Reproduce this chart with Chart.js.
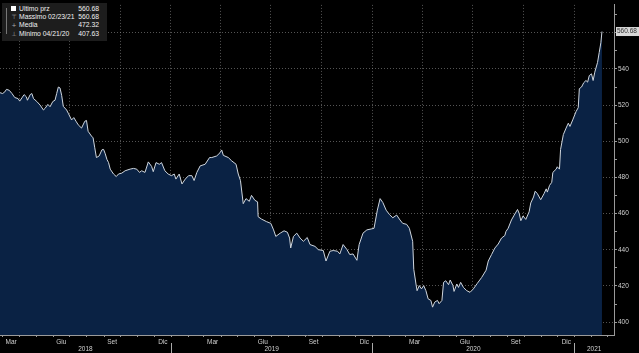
<!DOCTYPE html>
<html>
<head>
<meta charset="utf-8">
<script src="https://cdn.jsdelivr.net/npm/chart.js@4"></script>
<style>
  html, body { margin: 0; padding: 0; background: #000; }
  #wrap { position: relative; width: 639px; height: 353px; }
  #legend {
    position: absolute; left: 2px; top: 3px; width: 105px; height: 38px;
    background: #1d1d1d; color: #f0f0f0;
    font: 6.8px "Liberation Sans", Arial, sans-serif;
  }
  .row { position: absolute; left: 0; width: 100%; height: 8px; line-height: 8px; }
  .row .lab { position: absolute; left: 17px; }
  .row .val { position: absolute; right: 8px; }
  .row .ico { position: absolute; left: 9px; width: 6px; text-align: center; color: #aaa; font-family: "DejaVu Sans"; font-size: 6px; }
  .row .sq { position: absolute; left: 9px; top: 1.5px; width: 5px; height: 5px; background: #fff; }
  #tree { position: absolute; left: 4px; top: 5px; width: 3px; height: 26px; border-left: 1px solid #777; }
</style>
</head>
<body>
<div id="wrap">
  <canvas id="chart" width="639" height="353"></canvas>
  <div id="legend"></div>
</div>
<script>
// days since 1 Jan 2018, and closing values
const days = [55, 60, 64, 67, 72, 77, 82, 88, 91, 95, 99, 103, 105, 110, 113, 116, 122, 128, 134, 137,
  142, 146, 151, 155, 158, 161, 164, 167, 170, 176, 179, 185, 189, 193, 197, 203, 209, 212, 215, 221,
  224, 227, 230, 235, 240, 243, 246, 249, 252, 255, 261, 266, 270, 276, 282, 291, 297, 303, 308, 312,
  318, 324, 330, 333, 338, 344, 348, 354, 360, 366, 371, 374, 380, 385, 391, 397, 403, 407, 412, 418,
  427, 435, 439, 448, 454, 457, 460, 469, 475, 483, 487, 491, 496, 501, 507, 511, 517, 522, 523, 529,
  538, 546, 551, 555, 563, 570, 576, 580, 582, 587, 593, 599, 605, 612, 617, 626, 632, 641, 646, 653,
  659, 667, 671, 677, 684, 689, 695, 702, 706, 713, 720, 729, 733, 739, 744, 749, 755, 761, 767, 774,
  780, 785, 792, 797, 803, 805, 809, 811, 815, 819, 823, 827, 831, 836, 839, 843, 848, 851, 856, 859,
  863, 868, 871, 876, 878, 883, 886, 890, 895, 901, 907, 913, 920, 928, 936, 940, 946, 952, 958, 964,
  970, 972, 976, 982, 987, 993, 996, 999, 1003, 1008, 1014, 1017, 1022, 1025, 1029, 1035, 1041, 1045, 1047, 1051,
  1055, 1057, 1063, 1065, 1069, 1071, 1076, 1081, 1085, 1088, 1093, 1099, 1103, 1105, 1109, 1113, 1117, 1120, 1123, 1127,
  1130, 1133, 1138, 1141, 1144, 1146];
const values = [526.9, 526.4, 527.3, 528.7, 528.2, 526.4, 524.2, 523.6, 522.2, 524.0, 525.8, 524.6, 522.7, 525.8, 526.4, 523.6, 522.0, 520.0, 517.3, 518.2,
  520.4, 519.1, 522.0, 522.7, 526.4, 530.0, 529.5, 525.4, 519.3, 517.3, 515.5, 511.8, 513.1, 511.1, 509.1, 507.3, 511.1, 511.5, 505.5, 502.9,
  501.9, 496.4, 491.0, 491.9, 495.3, 495.5, 493.1, 490.0, 488.2, 484.6, 481.9, 480.5, 481.9, 482.4, 483.7, 484.6, 485.0, 484.6, 482.8, 483.7,
  482.8, 488.6, 486.1, 483.2, 488.2, 487.3, 488.2, 483.7, 481.9, 481.0, 481.9, 479.1, 481.9, 476.4, 479.1, 481.0, 481.0, 478.3, 482.8, 486.4,
  487.3, 491.0, 491.0, 491.9, 493.7, 495.2, 492.2, 491.0, 489.2, 487.3, 481.9, 478.3, 465.5, 468.3, 466.8, 470.1, 467.4, 466.5, 458.3, 457.0,
  455.6, 454.6, 451.0, 447.4, 449.2, 450.5, 449.7, 446.5, 441.0, 447.4, 449.2, 446.5, 444.7, 446.8, 442.9, 441.9, 440.1, 439.6, 433.8, 439.2,
  439.6, 439.2, 437.7, 442.9, 440.1, 437.4, 437.7, 434.2, 442.9, 449.2, 451.0, 451.6, 451.9, 461.9, 468.3, 466.1, 461.9, 459.5, 457.7, 459.2,
  456.5, 454.6, 454.1, 451.9, 444.7, 429.2, 421.1, 417.4, 420.2, 418.4, 420.2, 417.4, 412.9, 412.0, 408.3, 411.1, 412.0, 410.2, 412.0, 422.0,
  422.9, 420.7, 423.3, 420.2, 417.0, 421.1, 419.2, 422.0, 419.2, 417.4, 416.5, 418.4, 421.4, 424.7, 428.7, 433.8, 437.4, 441.0, 443.2, 446.5,
  447.9, 450.1, 451.9, 456.5, 459.2, 462.3, 460.1, 456.1, 458.7, 456.8, 461.0, 465.9, 469.2, 472.4, 471.0, 467.7, 471.0, 473.7, 471.9, 475.6,
  477.3, 482.8, 484.6, 485.9, 484.6, 495.5, 503.7, 507.3, 510.0, 508.2, 511.8, 516.4, 518.6, 529.1, 530.0, 532.4, 533.6, 532.7, 536.3, 537.3,
  533.6, 538.2, 543.6, 549.1, 554.5, 560.68];

// quarter grid lines sit at the end of the labelled month
const quarterDays = [90, 181, 273, 365, 455, 546, 638, 730, 821, 912, 1004, 1096];
const quarterLabels = ["Mar", "Giu", "Set", "Dic", "Mar", "Giu", "Set", "Dic", "Mar", "Giu", "Set", "Dic"];
const yearStarts = [365, 730, 1096];
const yearLabels = ["2018", "2019", "2020", "2021"];
const yTicks = [400, 410, 420, 430, 440, 450, 460, 470, 480, 490, 500, 510, 520, 530, 540, 550, 560, 570];

const legendRows = [
  { icon: "sq", label: "Ultimo prz", value: "560.68" },
  { icon: "\u22A4", label: "Massimo 02/23/21", value: "560.68" },
  { icon: "+", label: "Media", value: "472.32" },
  { icon: "\u22A5", label: "Minimo 04/21/20", value: "407.63" }
];

const legend = document.getElementById("legend");
let html = '<div id="tree"></div>';
legendRows.forEach((r, i) => {
  const ico = r.icon === "sq" ? '<span class="sq"></span>' : '<span class="ico">' + r.icon + '</span>';
  html += '<div class="row" style="top:' + (1.5 + i * 8.4) + 'px">' + ico +
    '<span class="lab">' + r.label + '</span><span class="val">' + r.value + '</span></div>';
});
legend.innerHTML = html;

const gridColor = "rgba(140,140,140,0.6)";
const axisColor = "#9a9a9a";
const font = { family: "'Liberation Sans', Arial, sans-serif", size: 6.5 };

const extras = {
  id: "extras",
  afterDraw(chart) {
    const ctx = chart.ctx;
    const x = chart.scales.x, y = chart.scales.y;
    const bottom = chart.chartArea.bottom;
    ctx.save();
    // monthly tick marks
    ctx.strokeStyle = axisColor;
    ctx.lineWidth = 1;
    const base = Date.UTC(2018, 0, 1);
    for (let k = 0; k < 40; k++) {
      const d = (Date.UTC(2018, k, 1) - base) / 864e5;
      if (d < x.min || d > x.max) continue;
      const px = Math.round(x.getPixelForValue(d)) + 0.5;
      ctx.beginPath(); ctx.moveTo(px, bottom); ctx.lineTo(px, bottom + 2); ctx.stroke();
    }
    // year separators and labels
    const edges = [x.left].concat(yearStarts.map(d => x.getPixelForValue(d)), [x.right]);
    ctx.strokeStyle = "#aaa";
    yearStarts.forEach(d => {
      const px = Math.round(x.getPixelForValue(d)) + 0.5;
      ctx.beginPath(); ctx.moveTo(px, bottom + 8); ctx.lineTo(px, 353); ctx.stroke();
    });
    ctx.fillStyle = "#d0d0d0";
    ctx.font = "6.5px 'Liberation Sans', Arial, sans-serif";
    ctx.textAlign = "center";
    ctx.textBaseline = "middle";
    yearLabels.forEach((t, i) => ctx.fillText(t, (edges[i] + edges[i + 1]) / 2, bottom + 14));
    // last value box
    const last = values[values.length - 1];
    const py = y.getPixelForValue(last);
    ctx.fillStyle = "#d8d8d8";
    ctx.fillRect(x.right + 2, py - 4.5, 639 - x.right - 2, 9);
    ctx.fillStyle = "#333";
    ctx.textAlign = "left";
    ctx.fillText(last.toFixed(2), x.right + 3, py);
    ctx.restore();
  }
};

new Chart(document.getElementById("chart"), {
  type: "line",
  data: {
    datasets: [{
      data: days.map((d, i) => ({ x: d, y: values[i] })),
      borderColor: "#cfd6de",
      borderWidth: 1,
      backgroundColor: "#0a2244",
      fill: "start",
      pointRadius: 0,
      tension: 0
    }]
  },
  options: {
    responsive: false,
    animation: false,
    layout: { padding: 0 },
    plugins: { legend: { display: false }, tooltip: { enabled: false } },
    scales: {
      x: {
        type: "linear",
        min: 55.3,
        max: 1167.8,
        z: 1,
        afterBuildTicks(scale) { scale.ticks = quarterDays.map(v => ({ value: v })); },
        afterFit(scale) { scale.height = 18; },
        grid: { color: gridColor, drawTicks: false },
        border: { display: true, color: axisColor, width: 1, dash: [1, 2] },
        ticks: {
          autoSkip: false, maxRotation: 0, padding: 3, labelOffset: -8,
          color: "#d0d0d0", font: font,
          callback: (v, i) => quarterLabels[i]
        }
      },
      y: {
        position: "right",
        min: 392.9,
        max: 575.4,
        z: 1,
        afterBuildTicks(scale) { scale.ticks = yTicks.map(v => ({ value: v })); },
        afterFit(scale) { scale.width = 25; },
        grid: {
          color: c => (c.tick && c.tick.value % 20 === 0) ? gridColor : "rgba(0,0,0,0)",
          tickColor: axisColor,
          tickBorderDash: [],
          tickLength: 3
        },
        border: { display: true, color: axisColor, width: 1, dash: [1, 2] },
        ticks: {
          padding: 1, color: "#d0d0d0", font: font,
          callback: v => (v % 20 === 0 && v !== 560) ? String(v) : ""
        }
      }
    }
  },
  plugins: [extras]
});
</script>
</body>
</html>
